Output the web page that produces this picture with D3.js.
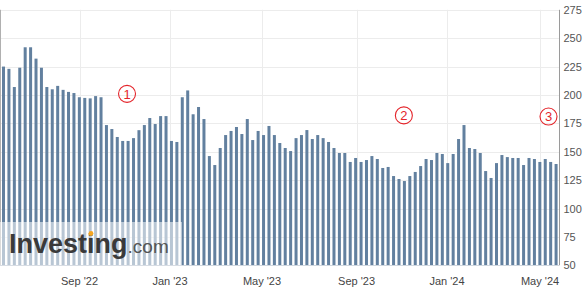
<!DOCTYPE html>
<html><head><meta charset="utf-8">
<script src="https://cdn.jsdelivr.net/npm/d3@7"></script>
<style>html,body{margin:0;padding:0;background:#fff;}svg{display:block;}</style>
</head><body>
<script>
// Weekly values, oldest to newest
const values = [225,223,207,224,242,242,232,224,207,205,208,204.5,202.7,201.7,198,197.4,197,199,198,173.5,
170,163,159.5,159.5,162,169,173.5,179.7,174.4,181.4,181.4,159.5,158.6,198,204,183,189.4,178.8,146.2,138.3,
153.3,164.7,168.3,171.8,165.6,178.8,160.3,168.3,164.7,172.7,164.7,157.7,153.3,150.6,162,164.7,169.1,161.2,164.7,162,
158.6,153.3,148.9,148.9,141,144.5,141,142.7,146.2,143.6,135.7,136.6,128.6,126,124.2,128.6,132.2,137.4,143.6,142.7,
148.9,148,140,148,161.2,173.5,153.3,152.4,148.9,133,126.9,140,147.1,145.3,144.5,144.5,138.3,144.5,143.6,141,
143.6,141,139.2];
const xTickLabels = ["Sep '22","Jan '23","May '23","Sep '23","Jan '24","May '24"];
const xTickIndex = [14.03,30.74,47.72,65.17,81.87,99.04]; // position of month start, in weeks from first bar
const yTicks = [50,75,100,125,150,175,200,225,250,275];
const markers = ["1","2","3"];
const markerIndex = [22.8,73.9,100.6];
const markerValue = [201,182,181];

const W=585,H=298;
const svg=d3.select("body").append("svg").attr("width",W).attr("height",H);
const x=d3.scaleLinear().domain([-0.5,values.length-0.5]).range([0.8,558.8]);
const y=d3.scaleLinear().domain([50,275]).range([265.3,9.8]);
const plotL=0, plotR=559;

// grid
svg.append("g").selectAll("line.h").data(yTicks).join("line")
  .attr("x1",plotL).attr("x2",plotR).attr("y1",d=>Math.round(y(d))+0.5).attr("y2",d=>Math.round(y(d))+0.5)
  .attr("stroke","#ececec").attr("stroke-width",1);
svg.append("g").selectAll("line.v").data(xTickIndex).join("line")
  .attr("x1",d=>Math.round(x(d))+0.5).attr("x2",d=>Math.round(x(d))+0.5).attr("y1",y(275)).attr("y2",y(50))
  .attr("stroke","#ececec").attr("stroke-width",1);
svg.append("line").attr("x1",0.5).attr("x2",0.5).attr("y1",y(275)).attr("y2",y(50)).attr("stroke","#b0b0b0");

// bars
const bw=3;
svg.append("g").selectAll("rect").data(values).join("rect")
  .attr("x",(d,i)=>x(i)-bw/2).attr("width",bw)
  .attr("y",d=>y(d)).attr("height",d=>y(50)-y(d))
  .attr("fill","#62809f");

// baseline
svg.append("line").attr("x1",0).attr("x2",plotR).attr("y1",Math.round(y(50))+0.5).attr("y2",Math.round(y(50))+0.5).attr("stroke","#cfd6de");

// watermark
svg.append("rect").attr("x",0).attr("y",222).attr("width",182).attr("height",y(50)-222).attr("fill","#fff").attr("opacity",0.55);
const wm=svg.append("text").attr("x",9).attr("y",253).attr("font-family","Liberation Sans, Arial, sans-serif");
wm.append("tspan").text("Investing").attr("font-size",27).attr("font-weight","bold").attr("fill","#3a3a3a");
wm.append("tspan").text(".com").attr("font-size",19).attr("fill","#555");
svg.append("circle").attr("cx",91).attr("cy",233.5).attr("r",2.4).attr("fill","#f5a623");

// right axis
const ax=svg.append("g").attr("transform",`translate(${plotR+0.5},0)`)
  .call(d3.axisRight(y).tickValues(yTicks).tickSize(0).tickPadding(4));
ax.select(".domain").attr("stroke","#9a9a9a").attr("d",`M0,${y(275)}V${y(50)}`);
ax.selectAll("text").attr("font-family","Liberation Sans, Arial, sans-serif").attr("font-size",11).attr("fill","#555");

// bottom axis labels
svg.append("g").selectAll("text").data(xTickLabels).join("text")
  .attr("x",(d,i)=>x(xTickIndex[i])).attr("y",285).attr("text-anchor","middle")
  .attr("font-family","Liberation Sans, Arial, sans-serif").attr("font-size",11).attr("fill","#444").text(d=>d);

// circled markers
const mk=svg.append("g").selectAll("g").data(markers).join("g")
  .attr("transform",(d,i)=>`translate(${x(markerIndex[i])},${y(markerValue[i])})`);
mk.append("circle").attr("r",8.5).attr("fill","none").attr("stroke","#e4252b").attr("stroke-width",1.1);
mk.append("text").attr("text-anchor","middle").attr("dy","0.36em").attr("font-size",13)
  .attr("font-family","Liberation Sans, Arial, sans-serif").attr("fill","#e4252b").text(d=>d);
</script>
</body></html>
